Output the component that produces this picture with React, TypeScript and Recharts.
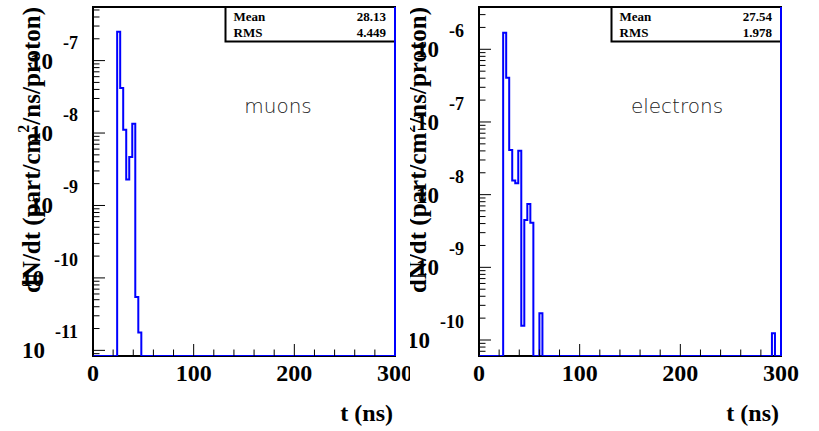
import React from 'react';
import { LineChart, Line, XAxis, YAxis, ReferenceArea, ReferenceLine } from 'recharts';

// histogram steps: lower bin edge (ns) and bin content, 0 = empty bin (3 ns bins)
const muonT = [0, 24, 27, 30, 33, 36, 39, 42, 45, 48, 300];
const muonV = [0, 2.51e-7, 4.17e-8, 1.11e-8, 2.28e-9, 4.67e-9, 1.34e-8, 5.45e-11, 1.76e-11, 0, 0];

const electronT = [0, 24, 27, 30, 33, 36, 39, 42, 45, 48, 51, 54, 60, 63, 291, 294, 300];
const electronV = [0, 1.69e-6, 4.06e-7, 4.11e-8, 1.56e-8, 1.43e-8, 4.03e-8, 1.57e-10, 4.48e-9, 7.43e-9, 4.11e-9, 0, 2.33e-10, 0, 1.24e-10, 0, 0];

const xTicks = [0, 20, 40, 60, 80, 100, 120, 140, 160, 180, 200, 220, 240, 260, 280, 300];
const muonDecades = [-11, -10, -9, -8, -7];
const electronDecades = [-10, -9, -8, -7, -6];
const muonDomain: [number, number] = [8.356e-12, 5.495e-7];
const electronDomain: [number, number] = [6.026e-11, 3.819e-6];
const muonStats = ['28.13', '4.449'];
const electronStats = ['27.54', '1.978'];

const SERIF = '"Liberation Serif", "Times New Roman", serif';
const H = 431;
const TOP = 7;
const XAXIS_H = 75;
const AXIS_Y = H - XAXIS_H;

const logTicks = (decades: number[], dom: [number, number]) => {
  const out: number[] = [];
  for (let d = decades[0] - 1; d <= decades[decades.length - 1]; d++) {
    for (let m = 1; m <= 9; m++) {
      const v = parseFloat(`${m}e${d}`);
      if (v >= dom[0] && v <= dom[1]) out.push(v);
    }
  }
  return out;
};

const YTick = (props: any) => {
  const { y, payload, axisX } = props;
  const e = Math.log10(payload.value);
  const major = Math.abs(e - Math.round(e)) < 1e-6;
  return (
    <g>
      <line x1={axisX} x2={axisX + (major ? 12 : 6.5)} y1={y} y2={y} stroke="#000" strokeWidth={1} />
      {major && (
        <text x={axisX - 15} y={y + 8} textAnchor="end" fontFamily={SERIF} fontWeight="bold" fill="#000">
          <tspan fontSize={23}>10</tspan>
          <tspan dx={10} dy={-20} fontSize={18}>{Math.round(e)}</tspan>
        </text>
      )}
    </g>
  );
};

const XTick = (props: any) => {
  const { x, payload } = props;
  const major = payload.value % 100 === 0;
  return (
    <g>
      <line x1={x} x2={x} y1={AXIS_Y} y2={AXIS_Y - (major ? 12 : 6.5)} stroke="#000" strokeWidth={1} />
      {major && (
        <text x={x} y={AXIS_Y + 25} textAnchor="middle" fontFamily={SERIF} fontWeight="bold" fontSize={24} fill="#000">
          {payload.value}
        </text>
      )}
    </g>
  );
};

type PanelProps = {
  left: number;
  width: number;
  axisX: number;
  rightMargin: number;
  t: number[];
  v: number[];
  decades: number[];
  domain: [number, number];
  stats: string[];
  label: string;
  labelX: number;
  titleX: number;
};

const Panel = ({ left, width, axisX, rightMargin, t, v, decades, domain, stats, label, labelX, titleX }: PanelProps) => {
  const data = t.map((tt, i) => ({ t: tt, v: v[i] > 0 ? v[i] : domain[0] }));
  const plotRight = width - rightMargin;
  const boxX = plotRight - 169.5;
  return (
    <div style={{ position: 'absolute', left, top: 0, width, height: H, overflow: 'hidden', background: '#fff' }}>
      <LineChart width={width} height={H} data={data} margin={{ top: TOP, right: rightMargin, left: 0, bottom: 0 }}>
        <XAxis
          dataKey="t"
          type="number"
          domain={[0, 300]}
          ticks={xTicks}
          interval={0}
          height={XAXIS_H}
          tickLine={false}
          axisLine={false}
          tick={(p: any) => <XTick {...p} />}
        />
        <YAxis
          type="number"
          scale="log"
          domain={domain}
          allowDataOverflow
          ticks={logTicks(decades, domain)}
          interval={0}
          width={axisX}
          tickLine={false}
          axisLine={false}
          tick={(p: any) => <YTick {...p} axisX={axisX} />}
        />
        <ReferenceArea x1={0} x2={300} y1={domain[0]} y2={domain[1]} fill="none" stroke="#000" strokeWidth={2} ifOverflow="visible" />
        <Line type="stepAfter" dataKey="v" stroke="#0000ff" strokeWidth={2} dot={false} isAnimationActive={false} />
        <ReferenceLine x={300} stroke="#0000ff" strokeWidth={2} />
      </LineChart>
      <svg width={width} height={H} style={{ position: 'absolute', left: 0, top: 0, pointerEvents: 'none' }}>
        <rect x={boxX} y={TOP} width={plotRight - boxX} height={34.5} fill="#fff" stroke="#000" strokeWidth={2} />
        <g fontFamily={SERIF} fontWeight="bold" fontSize={13} fill="#000">
          <text x={boxX + 8} y={20.5}>Mean</text>
          <text x={boxX + 8} y={36.5}>RMS</text>
          <text x={plotRight - 9} y={20.5} textAnchor="end">{stats[0]}</text>
          <text x={plotRight - 9} y={36.5} textAnchor="end">{stats[1]}</text>
        </g>
        <line x1={plotRight} x2={plotRight} y1={TOP} y2={AXIS_Y} stroke="#0000ff" strokeWidth={2} />
        <text x={labelX} y={113} textAnchor="middle" fontFamily='"DejaVu Sans", sans-serif' fontWeight={200} fontSize={20} fill="#222">
          {label}
        </text>
        <text x={plotRight - 2} y={421} textAnchor="end" fontFamily={SERIF} fontWeight="bold" fontSize={24} fill="#000">
          t (ns)
        </text>
        <text transform={`translate(${titleX},${TOP}) rotate(-90)`} textAnchor="end" fontFamily={SERIF} fontWeight="bold" fontSize={25} fill="#000">
          dN/dt (part/cm<tspan dy={-11} fontSize={16}>2</tspan><tspan dy={11}>/ns/proton)</tspan>
        </text>
      </svg>
    </div>
  );
};

export default function App() {
  return (
    <div style={{ position: 'absolute', left: 0, top: 0, width: 819, height: H, background: '#fff' }}>
      <Panel left={0} width={410} axisX={93} rightMargin={15} t={muonT} v={muonV} decades={muonDecades} domain={muonDomain}
        stats={muonStats} label="muons" labelX={278} titleX={40} />
      <Panel left={410} width={409} axisX={69} rightMargin={38} t={electronT} v={electronV} decades={electronDecades} domain={electronDomain}
        stats={electronStats} label="electrons" labelX={267} titleX={16} />
    </div>
  );
}
